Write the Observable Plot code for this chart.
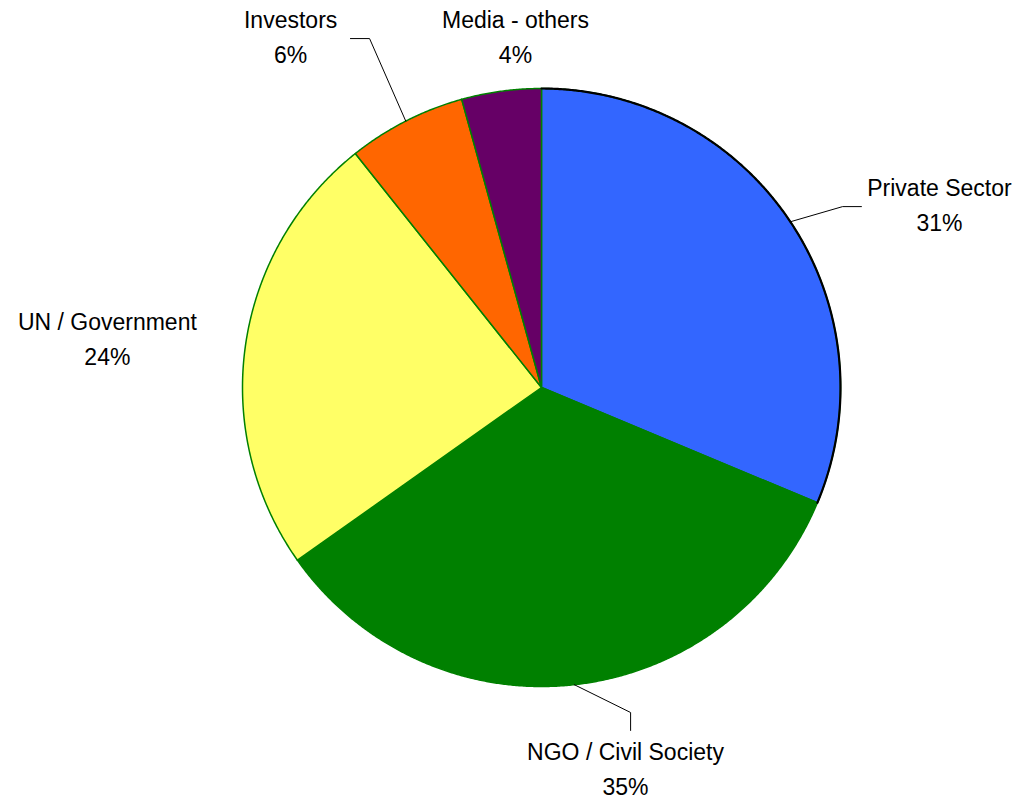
<!DOCTYPE html>
<html>
<head>
<meta charset="utf-8">
<script src="https://cdn.jsdelivr.net/npm/d3@7"></script>
<script src="https://cdn.jsdelivr.net/npm/@observablehq/plot@0.6"></script>
<style>
  html, body { margin: 0; padding: 0; background: #fff; }
  #chart svg { display: block; }
</style>
</head>
<body>
<div id="chart"></div>
<script>
// ---- data ----
const categories = ["Private Sector", "NGO / Civil Society", "UN / Government", "Investors", "Media - others"];
// slice sizes (share of the whole, %)
const shares = [31.3, 33.9, 24.1, 6.4, 4.3];
// percentage labels as printed on the chart
const pctLabels = ["31%", "35%", "24%", "6%", "4%"];
const colors = ["#3366FF", "#008000", "#FFFF66", "#FF6600", "#660066"];

// ---- label layout (in pie-radius units, separate from data) ----
const labelPos = [
  {x: 1.331, y: 0.642, elbow: [1.007, 0.605], end: [1.070, 0.605]},
  {x: 0.281, y: -1.247, elbow: [0.298, -1.087], end: [0.298, -1.147]},
  {x: -1.452, y: 0.191},
  {x: -0.839, y: 1.204, elbow: [-0.575, 1.167], end: [-0.639, 1.167]},
  {x: -0.087, y: 1.204}
];

// ---- geometry from data ----
const arcs = d3.pie().sort(null).value(d => d)(shares);
const slices = [];
const arcEdges = [];
const leaders = [];
arcs.forEach((a, i) => {
  const label = categories[i];
  slices.push({label, x: 0, y: 0});
  const n = Math.max(2, Math.ceil((a.endAngle - a.startAngle) / 0.005));
  for (let k = 0; k <= n; k++) {
    const t = a.startAngle + (a.endAngle - a.startAngle) * k / n;
    const p = {label, x: Math.sin(t), y: Math.cos(t)};
    slices.push(p);
    if (i === 0) arcEdges.push(p);
  }
  slices.push({label, x: 0, y: 0});
  const lp = labelPos[i];
  if (lp.elbow) {
    const m = (a.startAngle + a.endAngle) / 2;
    leaders.push({label, x: Math.sin(m), y: Math.cos(m)});
    leaders.push({label, x: lp.elbow[0], y: lp.elbow[1]});
    leaders.push({label, x: lp.end[0], y: lp.end[1]});
  }
});
const labels = categories.map((c, i) => ({
  label: c,
  pct: pctLabels[i],
  x: labelPos[i].x,
  y: labelPos[i].y
}));

const chart = Plot.plot({
  width: 1017,
  height: 799,
  marginLeft: 242,
  marginRight: 177,
  marginTop: 88,
  marginBottom: 113,
  x: {domain: [-1, 1], axis: null},
  y: {domain: [-1, 1], axis: null},
  color: {domain: categories, range: colors},
  style: {fontFamily: "'Liberation Sans', Arial, Helvetica, sans-serif", background: "#fff", overflow: "visible"},
  marks: [
    Plot.line(slices, {x: "x", y: "y", z: "label", fill: "label", stroke: "#008000", strokeWidth: 1.5, strokeLinejoin: "round"}),
    Plot.line(arcEdges, {x: "x", y: "y", stroke: "#000", strokeWidth: 2.2}),
    Plot.line(leaders, {x: "x", y: "y", z: "label", stroke: "#000", strokeWidth: 1}),
    Plot.text(labels, {x: "x", y: "y", text: "label", lineAnchor: "bottom", fontSize: 23, fill: "#000"}),
    Plot.text(labels, {x: "x", y: "y", text: "pct", lineAnchor: "bottom", dy: 35, fontSize: 23, fill: "#000"})
  ]
});
document.getElementById("chart").appendChild(chart);
</script>
</body>
</html>
